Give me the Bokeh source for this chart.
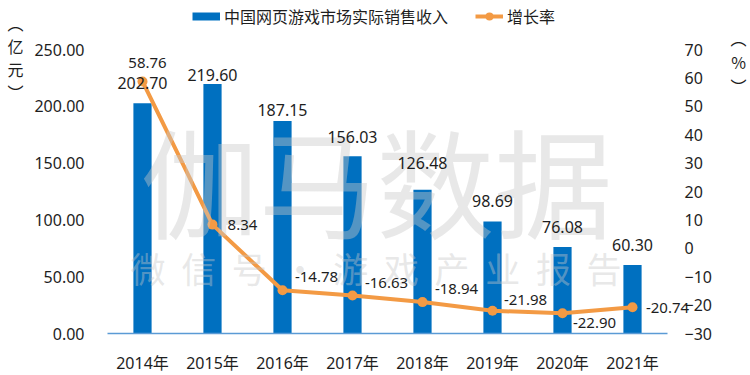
from bokeh.plotting import figure
from bokeh.models import (ColumnDataSource, LinearAxis, Range1d, FixedTicker,
                          NumeralTickFormatter, LabelSet, Label, Legend, LegendItem)
from bokeh.core.properties import value
from bokeh.embed import file_html
from bokeh.resources import INLINE

# ---------------- data ----------------
years = ["2014年", "2015年", "2016年", "2017年", "2018年", "2019年", "2020年", "2021年"]
revenue = [202.70, 219.60, 187.15, 156.03, 126.48, 98.69, 76.08, 60.30]
growth = [58.76, 8.34, -14.78, -16.63, -18.94, -21.98, -22.90, -20.74]
left_ticks = [0, 50, 100, 150, 200, 250]
right_ticks = [-30, -20, -10, 0, 10, 20, 30, 40, 50, 60, 70]
series_names = ["中国网页游戏市场实际销售收入", "增长率"]
left_unit = "︵\n亿\n元\n︶"
right_unit = "︵\n%\n︶"
watermark_big = "伽马数据"
watermark_small = "\u00a0\u00a0".join("微信号·游戏产业报告")

# label placement (pixel offsets)
rev_label_dy = [20, 9, 11, 19, 27, 20, 20, 20]
gr_label_dx = [5, 30, 34, 34, 34, 33, 32, 35]
gr_label_dy = [18, 0, 13, 13, 13, 11, -10, -1]

# ---------------- layout (pixels) ----------------
W, H = 750, 375
FR_L, FR_R, FR_T, FR_B = 107, 667, 49, 333      # plotting area of the chart

BLUE = "#0070C0"
ORANGE = "#F39A44"
AXIS_BLUE = "#5B9BD5"
TXT = "#1e1e1e"
NUM_FONT = "'Noto Sans', 'Noto Sans CJK SC'"
CJK_FONT = "Noto Sans CJK SC"

n = len(years)
xs = list(range(n))
px_cat = (FR_R - FR_L) / n
x_start = -0.5 - FR_L / px_cat
x_end = (n - 0.5) + (W - FR_R) / px_cat
px_l = (FR_B - FR_T) / (left_ticks[-1] - left_ticks[0])
y_start = left_ticks[0] - (H - FR_B) / px_l
y_end = left_ticks[-1] + FR_T / px_l
px_r = (FR_B - FR_T) / (right_ticks[-1] - right_ticks[0])
r_start = right_ticks[0] - (H - FR_B) / px_r
r_end = right_ticks[-1] + FR_T / px_r

src = ColumnDataSource(dict(
    x=xs, year=years, revenue=revenue, growth=growth,
    rev_text=[f"{v:.2f}" for v in revenue],
    gr_text=[f"{v:.2f}" for v in growth],
    rev_dy=rev_label_dy, gr_dx=gr_label_dx, gr_dy=gr_label_dy,
))

p = figure(width=W, height=H, x_range=Range1d(x_start, x_end), y_range=Range1d(y_start, y_end),
           output_backend="svg", toolbar_location=None,
           min_border_left=0, min_border_right=0, min_border_top=0, min_border_bottom=0)
p.outline_line_color = None
p.grid.visible = False
p.extra_y_ranges = {"pct": Range1d(r_start, r_end)}

bars = p.vbar(x="x", top="revenue", width=0.26, source=src, fill_color=BLUE, line_color=None)
line = p.line(x="x", y="growth", source=src, y_range_name="pct", line_color=ORANGE, line_width=4)
dots = p.scatter(x="x", y="growth", source=src, y_range_name="pct", marker="circle", size=10,
                 fill_color=ORANGE, line_color=None)
# legend key for the bars (a single-point line: draws nothing in the plot itself)
bar_key = p.line(x=xs[:1], y=revenue[:1], line_color=BLUE, line_width=8, line_cap="butt")

# semi-transparent watermark over the marks
p.add_layout(Label(x=140, y=H - 178, x_units="screen", y_units="screen", text=watermark_big,
                   text_font=CJK_FONT, text_font_size="118px", text_color="#c8c8c8", text_alpha=0.42,
                   text_align="left", text_baseline="middle"))
p.add_layout(Label(x=130, y=H - 267, x_units="screen", y_units="screen", text=watermark_small,
                   text_font=CJK_FONT, text_font_size="35px", text_color="#c8c8c8", text_alpha=0.42,
                   text_align="left", text_baseline="middle"))

# axes
ya = p.yaxis[0]
ya.ticker = FixedTicker(ticks=left_ticks)
ya.formatter = NumeralTickFormatter(format="0.00")
ya.fixed_location = -0.5
ra = LinearAxis(y_range_name="pct", ticker=FixedTicker(ticks=right_ticks), fixed_location=n - 0.5)
p.add_layout(ra, "right")
for ax in (ya, ra):
    ax.axis_line_color = None
    ax.major_tick_line_color = None
    ax.minor_tick_line_color = None
    ax.major_tick_out = 0
    ax.minor_tick_out = 0
    ax.major_label_text_font = NUM_FONT
    ax.major_label_text_font_size = "16px"
    ax.major_label_text_color = TXT
ya.major_label_standoff = 23
ra.major_label_standoff = 17

xa = p.xaxis[0]
xa.ticker = FixedTicker(ticks=xs)
xa.major_label_overrides = {i: yr for i, yr in zip(xs, years)}
xa.fixed_location = 0
xa.bounds = (-0.5, n - 0.5)
xa.axis_line_color = AXIS_BLUE
xa.axis_line_width = 1.5
xa.major_tick_line_color = None
xa.minor_tick_line_color = None
xa.major_tick_out = 0
xa.minor_tick_out = 0
xa.major_label_standoff = 18
xa.major_label_text_font = NUM_FONT
xa.major_label_text_font_size = "16px"
xa.major_label_text_color = TXT

# data labels
p.add_layout(LabelSet(x="x", y="revenue", text="rev_text", source=src, y_offset="rev_dy",
                      text_align="center", text_baseline="middle", text_font=value(NUM_FONT),
                      text_font_size="16px", text_color=TXT))
p.add_layout(LabelSet(x="x", y="growth", text="gr_text", source=src, y_range_name="pct",
                      x_offset="gr_dx", y_offset="gr_dy",
                      text_align="center", text_baseline="middle", text_font=value(NUM_FONT),
                      text_font_size="15px", text_color=TXT))

# unit labels
p.add_layout(Label(x=15, y=H - 57, x_units="screen", y_units="screen", text=left_unit,
                   text_font=CJK_FONT, text_font_size="16px", text_color=TXT,
                   text_align="center", text_baseline="middle", text_line_height=0.97))
p.add_layout(Label(x=738, y=H - 61, x_units="screen", y_units="screen", text=right_unit,
                   text_font=CJK_FONT, text_font_size="16px", text_color=TXT,
                   text_align="center", text_baseline="middle", text_line_height=1.0))

# legend
leg = Legend(items=[LegendItem(label=series_names[0], renderers=[bar_key]),
                    LegendItem(label=series_names[1], renderers=[line, dots])],
             location=(192, H - 28), orientation="horizontal", glyph_width=28, glyph_height=20,
             label_height=20, label_standoff=4, spacing=27, padding=0, margin=0,
             border_line_color=None, background_fill_alpha=0,
             label_text_font=CJK_FONT, label_text_font_size="16px", label_text_color=TXT)
p.add_layout(leg, "center")

open("out.html", "w").write(file_html(p, INLINE))
